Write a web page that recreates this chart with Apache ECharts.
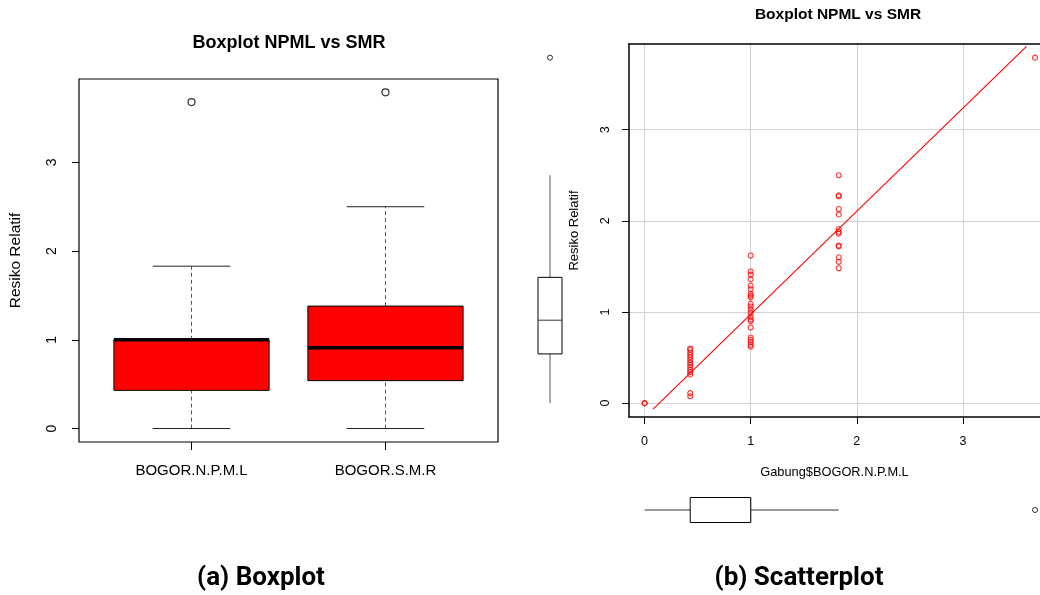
<!DOCTYPE html>
<html>
<head>
<meta charset="utf-8">
<script src="https://cdn.jsdelivr.net/npm/echarts@6/dist/echarts.min.js"></script>
<style>html,body{margin:0;padding:0;background:#fff;}#c{width:1040px;height:595px;}</style>
</head>
<body>
<div id="c"></div>
<script>
// ---------- data ----------
var boxCategories = ['BOGOR.N.P.M.L', 'BOGOR.S.M.R'];
// [min whisker, Q1, median, Q3, max whisker]
var npmlStats = [0, 0.43, 1.0, 1.0, 1.83];
var smrStats = [0, 0.54, 0.91, 1.38, 2.50];
var npmlOutliers = [3.68];
var smrOutliers = [3.79];
var axisTicks = [0, 1, 2, 3];

// scatter: x = NPML, y = SMR
var npmlX = [0, 0,
  0.43, 0.43, 0.43, 0.43, 0.43, 0.43, 0.43, 0.43, 0.43, 0.43, 0.43, 0.43, 0.43, 0.43,
  1, 1, 1, 1, 1, 1, 1, 1, 1, 1, 1, 1, 1, 1, 1, 1, 1, 1, 1, 1, 1, 1,
  1.83, 1.83, 1.83, 1.83, 1.83, 1.83, 1.83, 1.83, 1.83, 1.83, 1.83, 1.83, 1.83,
  3.68];
var smrY = [0, 0,
  0.60, 0.585, 0.555, 0.53, 0.505, 0.475, 0.445, 0.42, 0.395, 0.365, 0.34, 0.315, 0.11, 0.075,
  1.62, 1.445, 1.41, 1.36, 1.29, 1.25, 1.20, 1.18, 1.16, 1.09, 1.06, 1.025, 0.99, 0.95, 0.92, 0.90, 0.83, 0.72, 0.695, 0.67, 0.64, 0.62,
  2.50, 2.28, 2.27, 2.13, 2.07, 1.91, 1.88, 1.86, 1.73, 1.72, 1.60, 1.55, 1.48,
  3.79];
// fitted regression line end points
var regLineX = [0.08, 3.60];
var regLineY = [-0.066, 3.915];

// ---------- helpers ----------
var FONT = "'Liberation Sans', Arial, Helvetica, sans-serif";

function boxRenderer(o) {
  return function (params, api) {
    var pos = api.value(0), mn = api.value(1), q1 = api.value(2), md = api.value(3), q3 = api.value(4), mx = api.value(5);
    function p(a, v) { return o.horizontal ? api.coord([v, a]) : api.coord([a, v]); }
    var ch = [];
    function line(a1, v1, a2, v2, style) {
      var s = p(a1, v1), e = p(a2, v2);
      ch.push({ type: 'line', shape: { x1: s[0], y1: s[1], x2: e[0], y2: e[1] }, style: style });
    }
    var wStyle = { stroke: o.whiskerColor, lineWidth: 1, lineDash: o.dash || null };
    line(pos, mn, pos, q1, wStyle);
    line(pos, q3, pos, mx, wStyle);
    if (o.capHalf) {
      var cs = { stroke: o.capColor, lineWidth: 1 };
      line(pos - o.capHalf, mn, pos + o.capHalf, mn, cs);
      line(pos - o.capHalf, mx, pos + o.capHalf, mx, cs);
    }
    var a = p(pos - o.half, q1), b = p(pos + o.half, q3);
    ch.push({ type: 'rect', shape: { x: Math.min(a[0], b[0]), y: Math.min(a[1], b[1]), width: Math.abs(b[0] - a[0]), height: Math.abs(b[1] - a[1]) },
      style: { fill: o.fill, stroke: '#000', lineWidth: 1 } });
    line(pos - o.half, md, pos + o.half, md, { stroke: o.medianColor, lineWidth: o.medianWidth });
    return { type: 'group', children: ch };
  };
}

var chart = echarts.init(document.getElementById('c'), null, { renderer: 'canvas' });

var scatterData = npmlX.map(function (x, i) { return [x, smrY[i]]; });
var regData = [[regLineX[0], regLineY[0], regLineX[1], regLineY[1]]];
var leftBoxData = [[1].concat(npmlStats), [2].concat(smrStats)];
var leftOutData = npmlOutliers.map(function (v) { return [1, v]; }).concat(smrOutliers.map(function (v) { return [2, v]; }));

var option = {
  backgroundColor: '#fff',
  animation: false,
  textStyle: { fontFamily: FONT },
  graphic: [
    { type: 'text', x: 289, y: 43, style: { text: 'Boxplot NPML vs SMR', font: "bold 18px " + FONT, fill: '#000', align: 'center', verticalAlign: 'middle' } },
    { type: 'text', x: 838, y: 15, style: { text: 'Boxplot NPML vs SMR', font: "bold 15.5px " + FONT, fill: '#000', align: 'center', verticalAlign: 'middle' } },
    { type: 'text', x: 261, y: 578, style: { text: '(a) Boxplot', font: "bold 26px Roboto, 'Liberation Sans', sans-serif", fill: '#000', align: 'center', verticalAlign: 'middle' } },
    { type: 'text', x: 799, y: 578, style: { text: '(b) Scatterplot', font: "bold 26px Roboto, 'Liberation Sans', sans-serif", fill: '#000', align: 'center', verticalAlign: 'middle' } }
  ],
  grid: [
    { left: 79, top: 79, width: 419, height: 363, show: true, borderColor: '#000', borderWidth: 1.2, backgroundColor: 'transparent' },
    { left: 629, top: 44, width: 411, height: 373, show: false },
    { left: 520, top: 44, width: 60, height: 373 },
    { left: 629, top: 485, width: 411, height: 50 }
  ],
  xAxis: [
    { gridIndex: 0, type: 'value', min: 0.42, max: 2.58, position: 'bottom', axisLine: { show: false, onZero: false },
      axisTick: { show: true, length: 8, customValues: [1, 2], lineStyle: { color: '#000' } },
      axisLabel: { customValues: [1, 2], color: '#000', fontSize: 15, margin: 21, fontFamily: FONT,
        formatter: function (v) { return boxCategories[Math.round(v) - 1] || ''; } },
      splitLine: { show: false } },
    { gridIndex: 1, type: 'value', min: -0.147, max: 3.727, position: 'bottom',
      axisLine: { show: true, onZero: false, lineStyle: { color: '#000', width: 1.5 } },
      axisTick: { show: true, length: 7, customValues: axisTicks, lineStyle: { color: '#000' } },
      axisLabel: { customValues: axisTicks, color: '#000', fontSize: 12.5, margin: 18, fontFamily: FONT },
      splitLine: { show: true, lineStyle: { color: '#d3d3d3', width: 1 } },
      name: 'Gabung$BOGOR.N.P.M.L', nameLocation: 'middle', nameGap: 49,
      nameTextStyle: { color: '#000', fontSize: 12.8, fontFamily: FONT } },
    { gridIndex: 2, type: 'value', min: -1, max: 1, show: false },
    { gridIndex: 3, type: 'value', min: -0.147, max: 3.727, show: false },
    { gridIndex: 1, type: 'value', min: -0.147, max: 3.727, position: 'top',
      axisLine: { show: true, onZero: false, lineStyle: { color: '#000', width: 1.5 } },
      axisTick: { show: false }, axisLabel: { show: false }, splitLine: { show: false } }
  ],
  yAxis: [
    { gridIndex: 0, type: 'value', min: -0.152, max: 3.94, position: 'left', axisLine: { show: false, onZero: false },
      axisTick: { show: true, length: 7, customValues: axisTicks, lineStyle: { color: '#000' } },
      axisLabel: { customValues: axisTicks, rotate: 90, color: '#000', fontSize: 14, margin: 20, fontFamily: FONT },
      splitLine: { show: false },
      name: 'Resiko Relatif', nameLocation: 'middle', nameGap: 55, nameRotate: 90,
      nameTextStyle: { color: '#000', fontSize: 15.5, fontFamily: FONT } },
    { gridIndex: 1, type: 'value', min: -0.152, max: 3.94, position: 'left',
      axisLine: { show: true, onZero: false, lineStyle: { color: '#000', width: 1.5 } },
      axisTick: { show: true, length: 7, customValues: axisTicks, lineStyle: { color: '#000' } },
      axisLabel: { customValues: axisTicks, rotate: 90, color: '#000', fontSize: 12.5, margin: 17, fontFamily: FONT },
      splitLine: { show: true, lineStyle: { color: '#d3d3d3', width: 1 } },
      name: 'Resiko Relatif', nameLocation: 'middle', nameGap: 48, nameRotate: 90,
      nameTextStyle: { color: '#000', fontSize: 13, fontFamily: FONT } },
    { gridIndex: 2, type: 'value', min: -0.152, max: 3.94, show: false },
    { gridIndex: 3, type: 'value', min: -1, max: 1, show: false }
  ],
  series: [
    { type: 'custom', xAxisIndex: 0, yAxisIndex: 0, data: leftBoxData,
      renderItem: boxRenderer({ half: 0.4, capHalf: 0.2, fill: '#ff0000', whiskerColor: '#555', dash: [4, 3], capColor: '#222', medianColor: '#000', medianWidth: 3.5 }),
      encode: { x: 0, y: [1, 2, 3, 4, 5] } },
    { type: 'scatter', xAxisIndex: 0, yAxisIndex: 0, data: leftOutData, symbol: 'circle', symbolSize: 7,
      itemStyle: { color: 'rgba(0,0,0,0)', borderColor: '#000', borderWidth: 1.2 } },
    { type: 'scatter', xAxisIndex: 1, yAxisIndex: 1, data: scatterData, symbol: 'circle', symbolSize: 5,
      itemStyle: { color: 'rgba(0,0,0,0)', borderColor: '#ff0000', borderWidth: 1.1 }, z: 3 },
    { type: 'custom', xAxisIndex: 1, yAxisIndex: 1, data: regData, z: 4,
      encode: { x: [0, 2], y: [1, 3] },
      renderItem: function (params, api) {
        var s = api.coord([api.value(0), api.value(1)]);
        var e = api.coord([api.value(2), api.value(3)]);
        return { type: 'line', shape: { x1: s[0], y1: s[1], x2: e[0], y2: e[1] }, style: { stroke: '#ff0000', lineWidth: 1.1 } };
      } },
    { type: 'custom', xAxisIndex: 2, yAxisIndex: 2, data: [[0].concat(smrStats)],
      renderItem: boxRenderer({ half: 0.4, capHalf: 0, fill: '#fff', whiskerColor: '#555', dash: null, medianColor: '#333', medianWidth: 1 }),
      encode: { x: 0, y: [1, 2, 3, 4, 5] } },
    { type: 'scatter', xAxisIndex: 2, yAxisIndex: 2, data: smrOutliers.map(function (v) { return [0, v]; }), symbol: 'circle', symbolSize: 5,
      itemStyle: { color: 'rgba(0,0,0,0)', borderColor: '#000', borderWidth: 1 } },
    { type: 'custom', xAxisIndex: 3, yAxisIndex: 3, data: [[0].concat(npmlStats)],
      renderItem: boxRenderer({ horizontal: true, half: 0.5, capHalf: 0, fill: '#fff', whiskerColor: '#333', dash: null, medianColor: '#333', medianWidth: 1 }),
      encode: { x: [1, 2, 3, 4, 5], y: 0 } },
    { type: 'scatter', xAxisIndex: 3, yAxisIndex: 3, data: npmlOutliers.map(function (v) { return [v, 0]; }), symbol: 'circle', symbolSize: 5,
      itemStyle: { color: 'rgba(0,0,0,0)', borderColor: '#000', borderWidth: 1 } }
  ]
};
chart.setOption(option);
</script>
</body>
</html>
